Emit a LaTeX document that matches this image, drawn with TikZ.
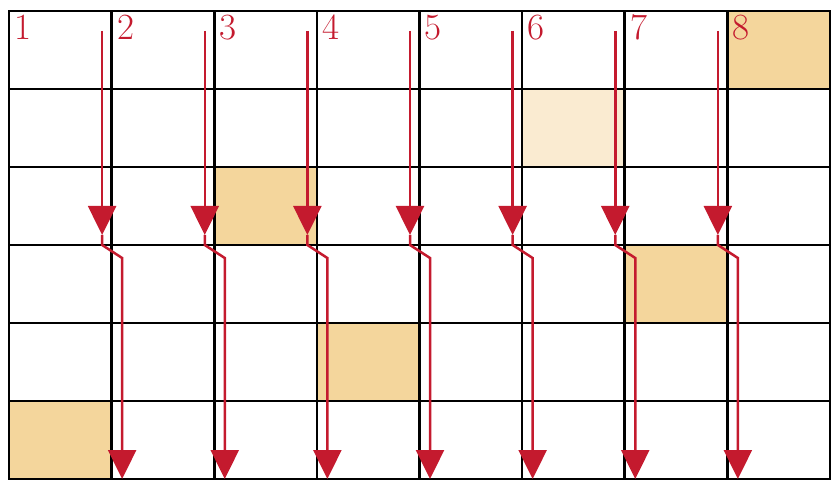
\documentclass[tikz,border=0pt]{standalone}
\usepackage{fontspec}
\usetikzlibrary{arrows.meta}

\definecolor{arrowred}{HTML}{C41A2E}
\definecolor{cellsand}{HTML}{F4D69C}
\definecolor{cellpale}{HTML}{FAEBD1}

\begin{document}
\begin{tikzpicture}[x=0.5pt, y=-0.5pt, >={Triangle[width=14pt, length=14.5pt]}]

  \useasboundingbox (0,0) rectangle (831,481);

  % --- 1. grid settings ---
  \def\cw{102.625} % column width
  \def\rh{78}      % row height
  \def\gx{9}       % left edge
  \def\gy{11}      % top edge

  % --- 2. shaded cells (column/row/colour) ---
  \foreach \c/\r/\col in {8/1/cellsand, 6/2/cellpale, 3/3/cellsand,
                          7/4/cellsand, 4/5/cellsand, 1/6/cellsand}
    \fill[\col] ({\gx+(\c-1)*\cw}, {\gy+(\r-1)*\rh}) rectangle ++(\cw, \rh);

  % --- 3. grid lines ---
  \foreach \i in {1,...,7}
    \draw[line width=1.3pt] ({\gx+\i*\cw}, \gy) -- ({\gx+\i*\cw}, {\gy+6*\rh});
  \foreach \j in {1,...,5}
    \draw[line width=1pt] (\gx, {\gy+\j*\rh}) -- ({\gx+8*\cw}, {\gy+\j*\rh});
  \draw[line width=0.7pt] (\gx, \gy) rectangle ({\gx+8*\cw}, {\gy+6*\rh});

  % --- 4. column numbers ---
  \foreach \i in {1,...,8}
    \node[arrowred, font=\fontsize{18.5}{20}\selectfont, anchor=base west, inner sep=0pt]
      (num\i) at ({\gx+(\i-1)*\cw+5}, 40) {\i};

  % --- 5. arrows with a step at row 3 ---
  \foreach \i in {1,...,7} {
    \pgfmathsetmacro{\ax}{\gx+\i*\cw-9.5}
    \coordinate (top\i)   at (\ax, 31);
    \coordinate (mid\i)   at (\ax, 235);
    \coordinate (bend\i)  at (\ax, 245);
    \coordinate (shift\i) at ({\ax+20}, 258);
    \coordinate (end\i)   at ({\ax+20}, 479);
    \draw[->, arrowred, line width=1.25pt] (top\i) -- (mid\i);
    \draw[->, arrowred, line width=1.25pt] (mid\i) -- (bend\i) -- (shift\i) -- (end\i);
  }

\end{tikzpicture}
\end{document}
